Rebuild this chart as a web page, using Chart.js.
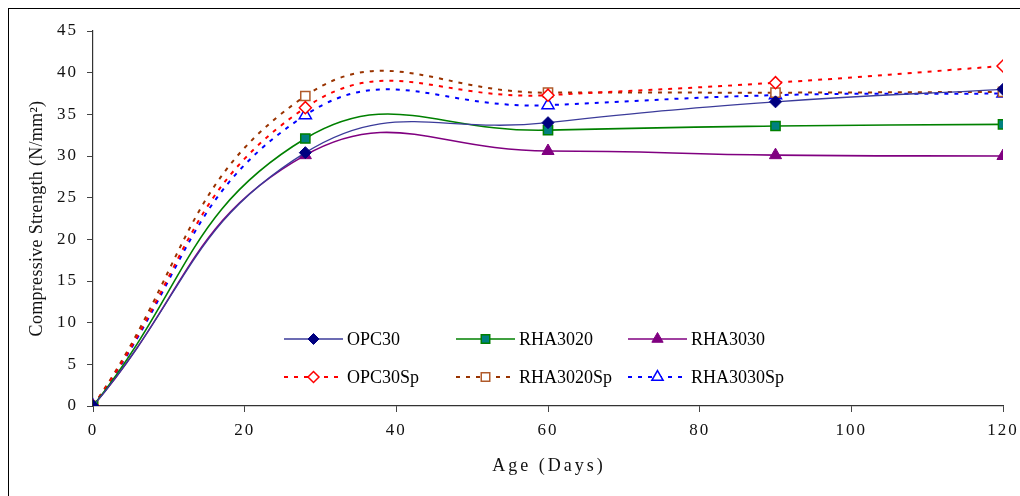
<!DOCTYPE html>
<html>
<head>
<meta charset="utf-8">
<script src="https://cdn.jsdelivr.net/npm/chart.js@4.4.0/dist/chart.umd.min.js"></script>
<style>
    html, body { margin: 0; padding: 0; background: #fff; overflow: hidden; }
    #wrap { position: relative; width: 1020px; height: 496px; }
    #frame { position: absolute; left: 8px; top: 8px; width: 1100px; height: 600px; border: 1.5px solid #000; box-sizing: border-box; pointer-events: none; }
    canvas { position: absolute; left: 0; top: 0; }
</style>
</head>
<body>
<div id="wrap">
    <canvas id="strengthChart" width="1020" height="496"></canvas>
    <div id="frame"></div>
</div>
<script>
// Age in days and compressive strength (N/mm2)
const ages = [0, 28, 60, 90, 120];
const opc30 = [0, 30.4, 34.0, 36.5, 38.0];
const rha3020 = [0, 32.1, 33.1, 33.6, 33.8];
const rha3030 = [0, 30.1, 30.6, 30.1, 30.0];
const opc30Sp = [0, 35.8, 37.3, 38.8, 40.8];
const rha3020Sp = [0, 37.2, 37.6, 37.6, 37.7];
const rha3030Sp = [0, 34.9, 36.1, 37.3, 37.5];

const xTicks = [0, 20, 40, 60, 80, 100, 120];
const yTicks = [0, 5, 10, 15, 20, 25, 30, 35, 40, 45];
const xTitle = 'Age (Days)';
const yTitle = 'Compressive Strength (N/mm²)';

const serif = '"Liberation Serif", "Times New Roman", serif';

function toPoints(values) {
    return values.map((v, i) => ({ x: ages[i], y: v }));
}

function series(label, values, opts) {
    return Object.assign({
        label: label,
        data: toPoints(values),
        fill: false,
        tension: 0.45,
        pointRadius: 6,
        pointHoverRadius: 6
    }, opts);
}

const datasets = [
    series('OPC30', opc30, {
        borderColor: '#3b3b9a', borderWidth: 1.3,
        pointStyle: 'rectRot', pointRadius: 6,
        pointBackgroundColor: '#000080', pointBorderColor: '#000080', pointBorderWidth: 1
    }),
    series('RHA3020', rha3020, {
        borderColor: '#008000', borderWidth: 1.6,
        pointStyle: 'rect', pointRadius: 6.5,
        pointBackgroundColor: '#008080', pointBorderColor: '#008000', pointBorderWidth: 1.5
    }),
    series('RHA3030', rha3030, {
        borderColor: '#800080', borderWidth: 1.6,
        pointStyle: 'triangle', pointRadius: 7,
        pointBackgroundColor: '#800080', pointBorderColor: '#800080', pointBorderWidth: 1
    }),
    series('OPC30Sp', opc30Sp, {
        borderColor: '#ff0000', borderWidth: 2, borderDash: [4, 6],
        pointStyle: 'rectRot', pointRadius: 6,
        pointBackgroundColor: '#ffffff', pointBorderColor: '#ff0000', pointBorderWidth: 1.5
    }),
    series('RHA3020Sp', rha3020Sp, {
        borderColor: '#993300', borderWidth: 2, borderDash: [4, 6],
        pointStyle: 'rect', pointRadius: 6.5,
        pointBackgroundColor: '#ffffff', pointBorderColor: '#b05a2a', pointBorderWidth: 1.5
    }),
    series('RHA3030Sp', rha3030Sp, {
        borderColor: '#0000ff', borderWidth: 2, borderDash: [4, 6],
        pointStyle: 'triangle', pointRadius: 7,
        pointBackgroundColor: '#ffffff', pointBorderColor: '#0000ff', pointBorderWidth: 1.5
    })
];

// wider tick labels (the original text is stretched), reset before the lines are drawn
const tickSpacing = {
    id: 'tickSpacing',
    beforeDraw(chart) { chart.ctx.letterSpacing = '2px'; },
    beforeDatasetsDraw(chart) { chart.ctx.letterSpacing = '0px'; }
};

// Axis titles and a legend inside the plot area, 3 columns x 2 rows
const insideLegend = {
    id: 'insideLegend',
    afterDraw(chart) {
        const ctx = chart.ctx;
        const area = chart.chartArea;

        ctx.save();
        ctx.fillStyle = '#111';
        ctx.textAlign = 'center';
        ctx.textBaseline = 'middle';
        ctx.font = '18px ' + serif;
        ctx.letterSpacing = '3px';
        ctx.fillText(xTitle, (area.left + area.right) / 2 + 1, 466);
        ctx.letterSpacing = '0.3px';
        ctx.translate(37, (area.top + area.bottom) / 2);
        ctx.rotate(-Math.PI / 2);
        ctx.fillText(yTitle, 0, 0);
        ctx.restore();

        const startX = area.left + 191;
        const colW = 172;
        const rows = [area.top + 308, area.top + 346];
        const lineLen = 59;
        chart.data.datasets.forEach((ds, i) => {
            const col = i % 3;
            const row = Math.floor(i / 3);
            const x = startX + col * colW;
            const y = rows[row];
            ctx.save();
            ctx.letterSpacing = '0px';
            ctx.strokeStyle = ds.borderColor;
            ctx.lineWidth = ds.borderWidth;
            ctx.setLineDash(ds.borderDash || []);
            ctx.beginPath();
            ctx.moveTo(x, y);
            ctx.lineTo(x + lineLen, y);
            ctx.stroke();
            ctx.setLineDash([]);
            ctx.fillStyle = ds.pointBackgroundColor;
            ctx.strokeStyle = ds.pointBorderColor;
            ctx.lineWidth = ds.pointBorderWidth;
            Chart.helpers.drawPoint(ctx, {
                pointStyle: ds.pointStyle,
                radius: ds.pointRadius - 0.5,
                borderWidth: ds.pointBorderWidth,
                rotation: 0
            }, x + lineLen / 2, y);
            ctx.fillStyle = '#000';
            ctx.font = '18px ' + serif;
            ctx.textAlign = 'left';
            ctx.textBaseline = 'middle';
            ctx.fillText(ds.label, x + lineLen + 4, y + 1);
            ctx.restore();
        });
    }
};

const ctx = document.getElementById('strengthChart').getContext('2d');
const strengthChart = new Chart(ctx, {
    type: 'line',
    data: { datasets: datasets },
    options: {
        responsive: false,
        animation: false,
        events: [],
        layout: { padding: { left: 0, top: 31, right: 17, bottom: 0 } },
        plugins: {
            legend: { display: false },
            tooltip: { enabled: false }
        },
        scales: {
            x: {
                type: 'linear',
                min: 0,
                max: 120,
                afterFit: scale => {
                    scale.height = 90;
                    scale.paddingLeft = 0;
                    scale.paddingRight = 0;
                },
                afterBuildTicks: scale => { scale.ticks = xTicks.map(v => ({ value: v })); },
                border: { color: '#333', width: 1.2 },
                grid: { drawOnChartArea: false, drawTicks: true, tickLength: 6, color: '#444' },
                ticks: { color: '#111', padding: 8, maxRotation: 0, font: { family: serif, size: 17 } }
            },
            y: {
                min: 0,
                max: 45,
                afterFit: scale => {
                    scale.width = 93;
                    scale.paddingTop = 0;
                    scale.paddingBottom = 0;
                },
                afterBuildTicks: scale => { scale.ticks = yTicks.map(v => ({ value: v })); },
                border: { color: '#333', width: 1.2 },
                grid: { drawOnChartArea: false, drawTicks: true, tickLength: 6, color: '#444' },
                ticks: { color: '#111', padding: 9, font: { family: serif, size: 17 } }
            }
        }
    },
    plugins: [tickSpacing, insideLegend]
});
</script>
</body>
</html>
